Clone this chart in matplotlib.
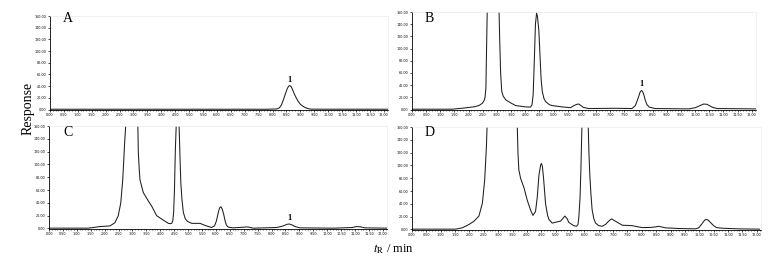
import numpy as np
import matplotlib
matplotlib.use("Agg")
import matplotlib.pyplot as plt
from matplotlib.ticker import MultipleLocator, FormatStrFormatter

plt.rcParams['mathtext.fontset'] = 'stix'

# chromatogram readings: retention time (min) and response
tA = [0, 7.8, 8.15, 8.25, 8.32, 8.4, 8.47, 8.53, 8.58, 8.62, 8.67, 8.72, 8.78, 8.85,
      8.92, 9.0, 9.08, 9.17, 9.28, 9.4, 12.15]
yA = [0.5, 0.5, 1, 3, 8, 18, 28, 36, 40, 41, 39, 34, 27, 20,
      14, 9, 6, 3.5, 1.5, 0.6, 0.5]

tB = [0, 1.42, 1.89, 2.2, 2.36, 2.48, 2.54, 2.58, 2.61, 2.63, 2.66, 2.85, 3.07, 3.1,
      3.13, 3.17, 3.22, 3.31, 3.48, 3.66, 4.01, 4.19, 4.24, 4.28, 4.32, 4.36, 4.4,
      4.43, 4.48, 4.52, 4.56, 4.6, 4.66, 4.72, 4.85, 4.95, 5.3, 5.6, 5.72, 5.82,
      5.89, 5.95, 6.05, 6.24, 7.18, 7.77, 7.89, 7.95, 8.01, 8.06, 8.1, 8.14, 8.19,
      8.24, 8.3, 8.38, 8.59, 9.77, 10.01, 10.15, 10.3, 10.42, 10.52, 10.62, 10.78,
      12.15]
yB = [0.5, 0.5, 2.7, 4.5, 6.5, 10, 14, 20, 35, 90, 170, 600, 170, 110,
      60, 30, 22, 16, 11, 6.5, 4.3, 4, 8, 25, 80, 140, 158,
      153, 130, 90, 50, 30, 18, 13, 8, 6.5, 4.3, 3, 6.5, 8.5,
      9, 7, 3.5, 1.6, 2, 1.6, 6.5, 14, 22, 29, 31, 30, 24,
      15, 8, 4, 1.6, 1, 3, 6, 9, 8.5, 6, 3.5, 1.6,
      1]

tC = [0, 1.4, 1.59, 1.83, 2.19, 2.37, 2.49, 2.58, 2.65, 2.70, 2.72, 2.74, 2.77, 2.95,
      3.19, 3.21, 3.24, 3.27, 3.33, 3.39, 3.57, 3.69, 3.87, 4.11, 4.29, 4.36, 4.41,
      4.45, 4.48, 4.51, 4.54, 4.58, 4.62, 4.67, 4.71, 4.74, 4.78, 4.83, 4.9, 4.98,
      5.13, 5.43, 5.6, 5.84, 5.95, 6.02, 6.08, 6.13, 6.18, 6.23, 6.28, 6.33, 6.38,
      6.45, 6.62, 7.0, 7.1, 7.2, 7.34, 8.18, 8.42, 8.55, 8.64, 8.74, 8.84, 9.02,
      10.22, 10.9, 11.05, 11.2, 11.35, 12.15]
yC = [0.5, 0.5, 1.5, 3, 4, 9, 20, 40, 76, 117, 135, 148, 170, 600,
      170, 120, 95, 76, 66, 56, 43, 35, 20, 13, 8, 7.5, 8,
      12, 25, 60, 120, 170, 400, 170, 110, 70, 45, 25, 15, 11,
      8, 8, 5, 1.5, 4, 12, 24, 32, 34, 30, 22, 12, 5,
      2, 1, 2, 2.5, 2, 0.5, 1.5, 4, 6.5, 7, 5.5, 3, 1,
      0.5, 1.5, 3, 2.5, 1, 0.5]

tD = [0, 1.52, 1.75, 1.98, 2.16, 2.33, 2.45, 2.53, 2.59, 2.62, 3.1, 3.66, 3.69, 3.72,
      3.78, 3.9, 4.01, 4.13, 4.21, 4.3, 4.36, 4.42, 4.48, 4.51, 4.54, 4.58, 4.65,
      4.72, 4.77, 4.88, 5.06, 5.17, 5.25, 5.32, 5.4, 5.46, 5.63, 5.73, 5.78, 5.81,
      5.85, 5.88, 5.92, 6.02, 6.13, 6.16, 6.19, 6.23, 6.27, 6.33, 6.39, 6.5, 6.62,
      6.74, 6.87, 6.95, 7.08, 7.32, 7.66, 8.01, 8.3, 8.48, 8.59, 8.82, 9.29, 9.87,
      9.98, 10.08, 10.16, 10.22, 10.3, 10.39, 10.5, 10.6, 10.79, 11.37, 12.1]
yD = [0.5, 0.5, 2.6, 7.7, 13, 21, 41, 77, 129, 170, 600, 170, 119, 93,
      80, 65, 46, 30, 22, 28, 50, 85, 101, 103, 98, 80, 40,
      22, 15.5, 10, 12, 13, 17, 21, 17, 11, 6, 5, 8, 20,
      50, 93, 170, 500, 170, 119, 85, 55, 31, 17, 10, 6, 5,
      8, 14, 16.5, 13, 6.7, 6, 3, 3.2, 4, 5, 2.6, 1.5, 1,
      2.6, 8, 13, 15.5, 15, 11, 6, 3, 2, 1, 0.5]

panels = ['A', 'B', 'C', 'D']
times = [tA, tB, tC, tD]
responses = [yA, yB, yC, yD]
peak1 = {'A': (8.6, 44), 'B': (8.1, 36), 'C': (8.64, 10)}

W, H = 782, 263
# axes boxes in pixels: left, right, top, bottom
boxes = [(50, 388, 16, 110), (412, 756, 12, 110), (49, 387, 126, 229), (412, 761, 127, 230)]
letter_pos = [(63, 12), (425, 12), (63, 126), (425, 126)]

fig = plt.figure(figsize=(W / 100, H / 100), dpi=100)

for name, t, y, box, lp in zip(panels, times, responses, boxes, letter_pos):
    l, r, tp, b = box
    ax = fig.add_axes([l / W, 1 - b / H, (r - l) / W, (b - tp) / H])
    ax.plot(t, y, color='#1e1e1e', lw=0.75)
    ax.set_xlim(0, 12.15)
    ax.set_ylim(-0.8, 160)
    ax.xaxis.set_major_locator(MultipleLocator(0.5))
    ax.xaxis.set_minor_locator(MultipleLocator(0.1))
    ax.yaxis.set_major_locator(MultipleLocator(20))
    ax.xaxis.set_major_formatter(FormatStrFormatter('%.2f'))
    ax.yaxis.set_major_formatter(FormatStrFormatter('%.2f'))
    ax.tick_params(axis='both', which='major', labelsize=2.4, length=1.5, width=0.5, pad=1)
    ax.tick_params(axis='x', which='minor', length=1, width=0.4)
    for s in ['top', 'right']:
        ax.spines[s].set_color('#ececec')
        ax.spines[s].set_linewidth(0.5)
    for s in ['left', 'bottom']:
        ax.spines[s].set_linewidth(0.6)
    if name in peak1:
        px, py = peak1[name]
        ax.text(px, py, '1', ha='center', va='bottom', fontsize=6,
                fontweight='bold', family='Liberation Serif')
    fig.text(lp[0] / W, 1 - lp[1] / H, name, ha='left', va='top',
             fontsize=10, family='Liberation Serif')

fig.text(28 / W, 1 - 108 / H, 'Response', rotation=90, ha='center', va='center',
         fontsize=10, family='Liberation Serif')
fig.text(393 / W, 1 - 249 / H, r'$t_{\mathrm{R}}$ / min', ha='center', va='center',
         fontsize=9, family='Liberation Serif')

fig.savefig('out.png', dpi=100)
